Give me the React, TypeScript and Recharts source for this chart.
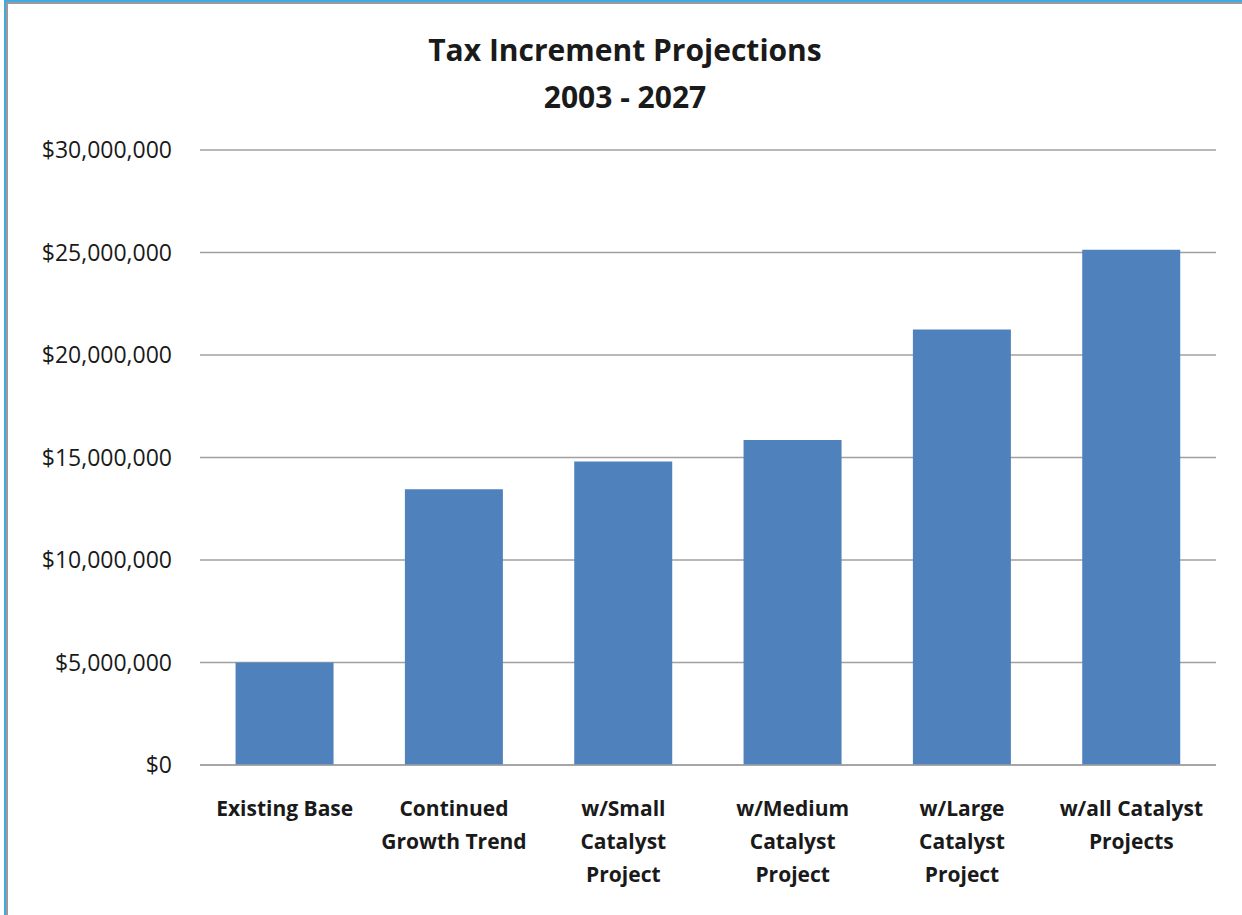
import { BarChart, Bar, XAxis, YAxis, CartesianGrid } from "recharts";

const categories = [
  "Existing Base",
  "Continued\nGrowth Trend",
  "w/Small\nCatalyst\nProject",
  "w/Medium\nCatalyst\nProject",
  "w/Large\nCatalyst\nProject",
  "w/all Catalyst\nProjects",
];
const increments = [5000000, 13450000, 14800000, 15850000, 21250000, 25130000];
const yTicks = [0, 5000000, 10000000, 15000000, 20000000, 25000000, 30000000];

const data = categories.map((name, i) => ({ name, value: increments[i] }));

const FONT = "'Open Sans', sans-serif";

const money = (v: number) => "$" + v.toLocaleString("en-US");

function CategoryTick(props: any) {
  const { x, y, payload } = props;
  const lines = String(payload.value).split("\n");
  return (
    <text
      x={x}
      y={y}
      textAnchor="middle"
      fontFamily={FONT}
      fontWeight={700}
      fontSize={21}
      fill="#1a1a1a"
    >
      {lines.map((l, i) => (
        <tspan key={i} x={x} dy={i === 0 ? 43 : 33}>
          {l}
        </tspan>
      ))}
    </text>
  );
}

export default function App() {
  return (
    <div
      style={{
        position: "absolute",
        left: 0,
        top: 0,
        width: 1242,
        height: 915,
        background: "#fff",
        overflow: "hidden",
      }}
    >
      <div style={{ position: "absolute", left: 4, top: 0, width: 1242, height: 2, background: "#3fa9e0" }} />
      <div style={{ position: "absolute", left: 4, top: 2, width: 1242, height: 2, background: "#9a9a9a" }} />
      <div style={{ position: "absolute", left: 4, top: 0, width: 2, height: 915, background: "#3fa9e0" }} />
      <div style={{ position: "absolute", left: 6, top: 2, width: 2, height: 913, background: "#9a9a9a" }} />
      <div
        style={{
          position: "absolute",
          left: 0,
          top: 26,
          width: 1250,
          textAlign: "center",
          fontFamily: FONT,
          fontWeight: 700,
          fontSize: 30,
          lineHeight: "47px",
          color: "#1a1a1a",
        }}
      >
        Tax Increment Projections
        <br />
        2003 - 2027
      </div>
      <div style={{ position: "absolute", left: 0, top: 0 }}>
        <BarChart
          width={1242}
          height={915}
          data={data}
          margin={{ top: 150, right: 26, left: 0, bottom: 50 }}
          barCategoryGap="21%"
        >
          <CartesianGrid vertical={false} stroke="#a0a0a0" strokeWidth={1.5} />
          <XAxis
            dataKey="name"
            height={100}
            interval={0}
            axisLine={{ stroke: "#a0a0a0", strokeWidth: 1.5 }}
            tickLine={false}
            tick={<CategoryTick />}
          />
          <YAxis
            width={200}
            domain={[0, 30000000]}
            ticks={yTicks}
            tickFormatter={money}
            axisLine={false}
            tickLine={false}
            tickSize={0}
            tickMargin={28}
            tick={{ fontFamily: FONT, fontSize: 23, fill: "#1a1a1a" }}
          />
          <Bar dataKey="value" fill="#4f81bd" isAnimationActive={false} />
        </BarChart>
      </div>
    </div>
  );
}
